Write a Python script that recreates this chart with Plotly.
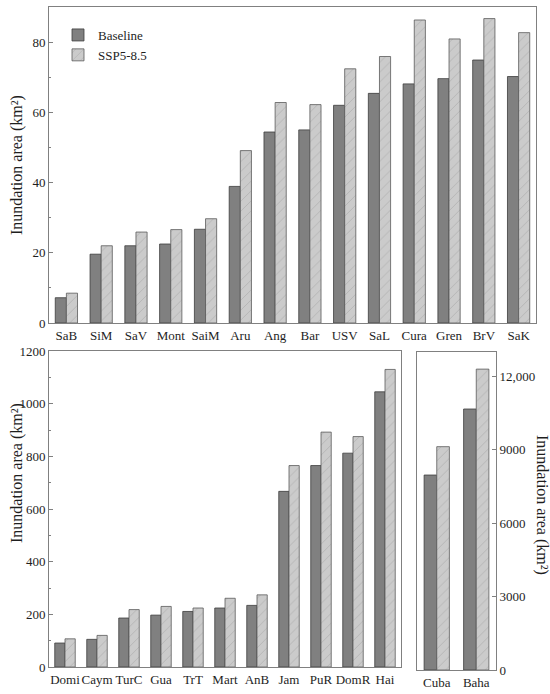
import plotly.graph_objects as go

# top panel: small islands (km2)
small_names = ["SaB", "SiM", "SaV", "Mont", "SaiM", "Aru", "Ang", "Bar",
               "USV", "SaL", "Cura", "Gren", "BrV", "SaK"]
small_base = [7.2, 19.6, 22.0, 22.5, 26.7, 38.9, 54.4, 55.0,
              62.0, 65.4, 68.1, 69.6, 74.9, 70.2]
small_ssp = [8.5, 22.0, 25.9, 26.6, 29.7, 49.1, 62.8, 62.2,
             72.4, 75.9, 86.3, 80.9, 86.7, 82.7]

# bottom left: medium islands
mid_names = ["Domi", "Caym", "TurC", "Gua", "TrT", "Mart", "AnB",
             "Jam", "PuR", "DomR", "Hai"]
mid_base = [91, 105, 186, 197, 211, 224, 234, 667, 765, 812, 1045]
mid_ssp = [107, 120, 218, 230, 224, 261, 274, 765, 892, 875, 1130]

# bottom right: large islands
big_names = ["Cuba", "Baha"]
big_base = [7970, 10670]
big_ssp = [9130, 12300]
big_ticks = [0, 3000, 6000, 9000, 12000]
big_ticktext = ["0", "3000", "6000", "9000", "12,000"]

FONT = "Liberation Serif"
BASE_FILL = "#808080"
BASE_LINE = "#3c3c3c"
SSP_FILL = "#cbcbcb"
SSP_LINE = "#5a5a5a"
FRAME = "#808080"
TXT = "#1e1e1e"


def add_pair(fig, names, base, ssp, xa, ya, legend):
    fig.add_trace(go.Bar(
        x=names, y=base, name="Baseline", xaxis=xa, yaxis=ya,
        marker=dict(color=BASE_FILL, line=dict(color=BASE_LINE, width=0.8)),
        showlegend=legend))
    fig.add_trace(go.Bar(
        x=names, y=ssp, name="SSP5-8.5", xaxis=xa, yaxis=ya,
        marker=dict(color=SSP_FILL, line=dict(color=SSP_LINE, width=0.8),
                    pattern=dict(shape="/", fgcolor="#9a9a9a", bgcolor=SSP_FILL,
                                 size=7, solidity=0.12)),
        showlegend=legend))


fig = go.Figure()
add_pair(fig, small_names, small_base, small_ssp, "x", "y", True)
add_pair(fig, mid_names, mid_base, mid_ssp, "x2", "y2", False)
add_pair(fig, big_names, big_base, big_ssp, "x3", "y3", False)

W, H = 550, 694


def dx(a, b):
    return [a / W, b / W]


def dy(top, bottom):
    return [1 - bottom / H, 1 - top / H]


axis_common = dict(showline=True, linecolor=FRAME, linewidth=1, mirror=True,
                   showgrid=False, zeroline=False, automargin=False,
                   tickfont=dict(family=FONT, size=13, color=TXT))

fig.update_layout(
    width=W, height=H,
    margin=dict(l=0, r=0, t=0, b=0),
    paper_bgcolor="white", plot_bgcolor="white",
    barmode="group", bargap=0.36, bargroupgap=0,
    font=dict(family=FONT, size=13, color=TXT),
    legend=dict(x=58 / W, y=1 - 20 / H, xanchor="left", yanchor="top",
                bgcolor="rgba(0,0,0,0)", font=dict(family=FONT, size=13, color=TXT),
                tracegroupgap=0, itemwidth=30),
    xaxis=dict(domain=dx(49, 536), anchor="y", ticks="", tickangle=0, **axis_common),
    yaxis=dict(domain=dy(7, 323), anchor="x", range=[0, 90],
               tickvals=[0, 20, 40, 60, 80], ticks="inside", ticklen=4,
               tickcolor=FRAME,
               minor=dict(tickvals=[10, 30, 50, 70], ticks="inside", ticklen=2,
                          tickcolor=FRAME),
               **axis_common),
    xaxis2=dict(domain=dx(49, 401), anchor="y2", ticks="", tickangle=0, **axis_common),
    yaxis2=dict(domain=dy(351, 667), anchor="x2", range=[0, 1200],
                tickvals=[0, 200, 400, 600, 800, 1000, 1200], ticks="inside",
                ticklen=4, tickcolor=FRAME,
                minor=dict(tickvals=[100, 300, 500, 700, 900, 1100],
                           ticks="inside", ticklen=2, tickcolor=FRAME),
                **axis_common),
    xaxis3=dict(domain=dx(417, 496), anchor="y3", ticks="", tickangle=0, **axis_common),
    yaxis3=dict(domain=dy(352, 670), anchor="x3", range=[0, 13000], side="right",
                tickvals=big_ticks, ticktext=big_ticktext, ticks="inside",
                ticklen=4, tickcolor=FRAME, **axis_common),
)

title_font = dict(family=FONT, size=16, color=TXT)
for tx, ty, ang in [(17, 165, -90), (17, 473, -90), (542, 505, 90)]:
    fig.add_annotation(text="Inundation area (km²)", xref="paper", yref="paper",
                       x=tx / W, y=1 - ty / H, xanchor="center", yanchor="middle",
                       textangle=ang, showarrow=False, font=title_font)

# page body has a default 8px margin; drop it so the figure fills the window
fig.write_html("out.html", config={"displayModeBar": False},
               post_script="document.body.style.margin='0';")
